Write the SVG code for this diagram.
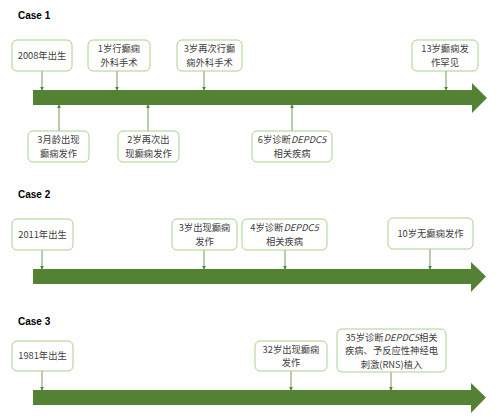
<svg xmlns="http://www.w3.org/2000/svg" width="500" height="420" viewBox="0 0 500 420">
<defs>
<marker id="ah" viewBox="0 0 6 6" refX="5" refY="3" markerWidth="4" markerHeight="4" orient="auto" markerUnits="userSpaceOnUse">
<path d="M0,0 L6,3 L0,6 Z" fill="#548235"/>
</marker>
<style>
.title{font-family:"Liberation Sans",Arial,sans-serif;font-weight:bold;font-size:10px;fill:#000}
.box{fill:#fff;stroke:#A9D18E;stroke-width:1}
.t{font-family:"Noto Sans CJK SC","Noto Sans",sans-serif;font-size:9.3px;fill:#404040;text-anchor:middle}
.bar{fill:#548235}
.c{stroke:#548235;stroke-width:0.8;fill:none;marker-end:url(#ah)}
</style>
</defs>
<rect width="500" height="420" fill="#fff"/>

<text class="title" x="18" y="19">Case 1</text>
<text class="title" x="18" y="198">Case 2</text>
<text class="title" x="18" y="325">Case 3</text>

<g id="timelines">
<polygon class="bar" points="33,90 472,90 472,83 487,98 472,113 472,105 33,105"/>
<polygon class="bar" points="33,269 471,269 471,262 486,276.5 471,292 471,284 33,284"/>
<polygon class="bar" points="33,390 471,390 471,383 486,397.5 471,413 471,405 33,405"/>
</g>

<g id="connectors">
<line class="c" x1="42" y1="71" x2="42" y2="90"/>
<line class="c" x1="117" y1="71" x2="117" y2="90"/>
<line class="c" x1="204" y1="71" x2="204" y2="90"/>
<line class="c" x1="446" y1="71" x2="446" y2="90"/>
<line class="c" x1="59" y1="131" x2="59" y2="105"/>
<line class="c" x1="148" y1="131" x2="148" y2="105"/>
<line class="c" x1="292" y1="131" x2="292" y2="105"/>

<line class="c" x1="42" y1="250" x2="42" y2="269"/>
<line class="c" x1="204" y1="250" x2="204" y2="269"/>
<line class="c" x1="285" y1="250" x2="285" y2="269"/>
<line class="c" x1="430" y1="249" x2="430" y2="269"/>

<line class="c" x1="42" y1="371" x2="42" y2="390"/>
<line class="c" x1="291" y1="371" x2="291" y2="390"/>
<line class="c" x1="391" y1="372" x2="391" y2="390"/>
</g>

<g id="c1-birth"><rect class="box" x="12" y="40" width="60" height="31" rx="5"/><text class="t" x="42" y="59">2008年出生</text></g>
<g id="c1-1y"><rect class="box" x="88" y="40" width="62" height="31" rx="5"/><text class="t" x="119" y="52.25">1岁行癫痫</text><text class="t" x="119" y="65.75">外科手术</text></g>
<g id="c1-3y"><rect class="box" x="177" y="40" width="65" height="31" rx="5"/><text class="t" x="209.5" y="52.25">3岁再次行癫</text><text class="t" x="209.5" y="65.75">痫外科手术</text></g>
<g id="c1-13y"><rect class="box" x="412" y="40" width="66" height="31" rx="5"/><text class="t" x="445" y="52.25">13岁癫痫发</text><text class="t" x="445" y="65.75">作罕见</text></g>
<g id="c1-3m"><rect class="box" x="28" y="131" width="61" height="31" rx="5"/><text class="t" x="58.5" y="143.25">3月龄出现</text><text class="t" x="58.5" y="156.75">癫痫发作</text></g>
<g id="c1-2y"><rect class="box" x="118" y="131" width="61" height="31" rx="5"/><text class="t" x="148.5" y="143.25">2岁再次出</text><text class="t" x="148.5" y="156.75">现癫痫发作</text></g>
<g id="c1-6y"><rect class="box" x="252" y="131" width="80" height="31" rx="5"/><text class="t" x="292" y="143.25">6岁诊断<tspan font-style="italic">DEPDC5</tspan></text><text class="t" x="292" y="156.75">相关疾病</text></g>

<g id="c2-birth"><rect class="box" x="12" y="219" width="61" height="31" rx="5"/><text class="t" x="42.5" y="238">2011年出生</text></g>
<g id="c2-3y"><rect class="box" x="172" y="219" width="65" height="31" rx="5"/><text class="t" x="204.5" y="231.25">3岁出现癫痫</text><text class="t" x="204.5" y="244.75">发作</text></g>
<g id="c2-4y"><rect class="box" x="242" y="219" width="85" height="31" rx="5"/><text class="t" x="284.5" y="231.25">4岁诊断<tspan font-style="italic">DEPDC5</tspan></text><text class="t" x="284.5" y="244.75">相关疾病</text></g>
<g id="c2-10y"><rect class="box" x="388" y="218" width="85" height="31" rx="5"/><text class="t" x="430.5" y="237">10岁无癫痫发作</text></g>

<g id="c3-birth"><rect class="box" x="12" y="341" width="61" height="30" rx="5"/><text class="t" x="42.5" y="359">1981年出生</text></g>
<g id="c3-32y"><rect class="box" x="255" y="341" width="72" height="30" rx="5"/><text class="t" x="291" y="352.75">32岁出现癫痫</text><text class="t" x="291" y="366.25">发作</text></g>
<g id="c3-35y"><rect class="box" x="337" y="329" width="109" height="43" rx="5"/><text class="t" x="391.5" y="340.5">35岁诊断<tspan font-style="italic">DEPDC5</tspan>相关</text><text class="t" x="391.5" y="354">疾病、予反应性神经电</text><text class="t" x="391.5" y="367.5">刺激(RNS)植入</text></g>
</svg>
